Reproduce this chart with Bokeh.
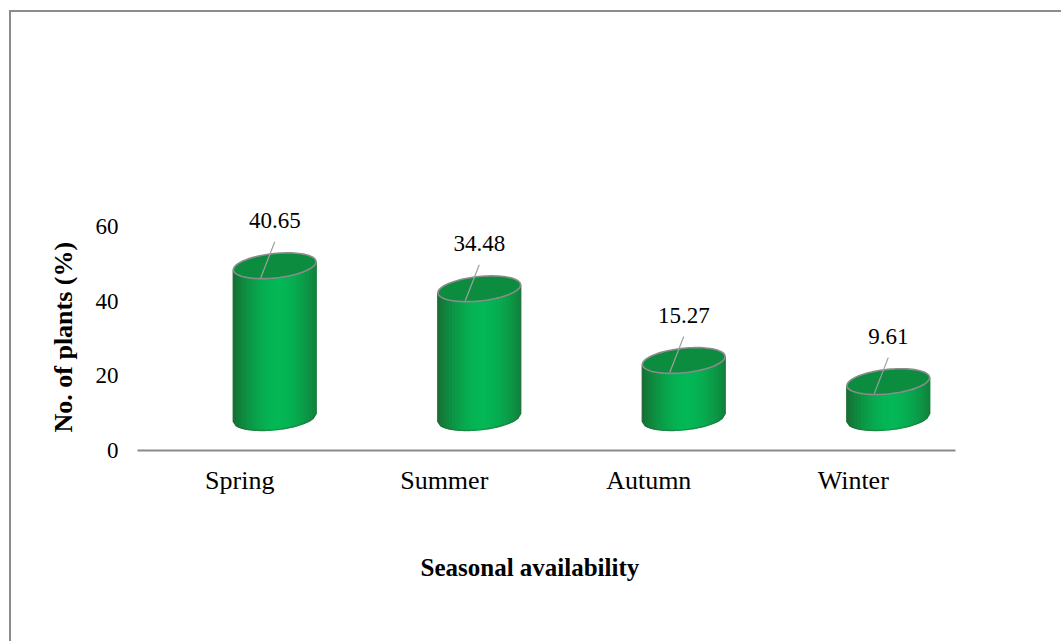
import numpy as np
from bokeh.plotting import figure
from bokeh.models import FixedTicker, Title, InlineStyleSheet
from bokeh.core.properties import value
from bokeh.embed import file_html
from bokeh.resources import INLINE

# ---------------- data ----------------
seasons = ["Spring", "Summer", "Autumn", "Winter"]
percent = [40.65, 34.48, 15.27, 9.61]
y_ticks = [0, 20, 40, 60]
x_title = "Seasonal availability"
y_title = "No. of plants (%)"

# ---------------- layout ----------------
W, H = 1061, 641
FL, FR, FT, FB = 137, 955, 114, 450       # plot frame in pixels
Y_MAX = 90
n = len(seasons)
px_x = (FR - FL) / n                      # pixels per x unit
px_y = (FB - FT) / Y_MAX                  # pixels per y unit

FONT = "Liberation Serif"

p = figure(width=W, height=H, x_range=(0, n), y_range=(0, Y_MAX),
           output_backend="svg", toolbar_location=None,
           min_border_left=FL, min_border_right=W - FR,
           min_border_top=FT, min_border_bottom=H - FB,
           background_fill_color="white", border_fill_color="white")
p.outline_line_color = None
p.grid.visible = False

# x axis
centers = [i + 0.5 for i in range(n)]
p.xaxis.ticker = FixedTicker(ticks=centers)
p.xaxis.major_label_overrides = {c: s for c, s in zip(centers, seasons)}
p.xaxis.axis_line_color = "#8a8a8a"
p.xaxis.axis_line_width = 2
p.xaxis.major_tick_line_color = None
p.xaxis.minor_tick_line_color = None
p.xaxis.major_tick_out = 0
p.xaxis.major_tick_in = 0
p.xaxis.major_label_standoff = 15
p.xaxis.major_label_text_font = FONT
p.xaxis.major_label_text_font_size = "26px"
p.xaxis.major_label_text_color = "black"

# y axis
p.yaxis.ticker = FixedTicker(ticks=y_ticks)
p.yaxis.axis_line_color = None
p.yaxis.major_tick_line_color = None
p.yaxis.minor_tick_line_color = None
p.yaxis.major_tick_out = 0
p.yaxis.major_tick_in = 0
p.yaxis.major_label_standoff = 19
p.yaxis.major_label_text_font = FONT
p.yaxis.major_label_text_font_size = "23px"
p.yaxis.major_label_text_color = "black"

# axis titles (side titles so they can be positioned like the original)
p.add_layout(Title(text=y_title, align="left", offset=18, standoff=30,
                   text_font=FONT, text_font_size="26px", text_font_style="bold",
                   text_color="black"), "left")
p.add_layout(Title(text=x_title, align="left", offset=283, standoff=108,
                   vertical_align="bottom",
                   text_font=FONT, text_font_size="25px", text_font_style="bold",
                   text_color="black"), "below")

# ---------------- cylinders ----------------
A_PX, B_PX, THETA = 41.5, 12.2, np.deg2rad(-6.0)   # ellipse half axes (px), tilt
SHIFT_PX, FLOOR_PX = 35, 33                         # 3-D perspective offsets
floor = FLOOR_PX / px_y
cs, sn = np.cos(THETA), np.sin(THETA)
umax = np.sqrt(A_PX**2 * cs**2 + B_PX**2 * sn**2)


def lower_env(u):
    """screen-y (down positive) of the lower edge of the tilted ellipse."""
    Aq = sn**2 / A_PX**2 + cs**2 / B_PX**2
    Bq = 2 * u * (cs * sn / A_PX**2 - sn * cs / B_PX**2)
    Cq = u**2 * (cs**2 / A_PX**2 + sn**2 / B_PX**2) - 1
    disc = np.clip(Bq**2 - 4 * Aq * Cq, 0, None)
    return (-Bq + np.sqrt(disc)) / (2 * Aq)


def shade(t):
    bright = np.array([4, 184, 86])
    dark = np.array([22, 110, 50])
    f = min(1.0, abs(t - 0.55) / 0.55) ** 1.7
    c = bright * (1 - f) + dark * f
    return "#%02x%02x%02x" % tuple(int(round(v)) for v in c)


NS = 28
strip_xs, strip_ys, strip_cols = [], [], []
top_xs, top_ys = [], []
edge_xs, edge_ys = [], []
cyl_x, top_y = [], []
for i, v in enumerate(percent):
    cx = centers[i] + SHIFT_PX / px_x
    ty = floor + v
    cyl_x.append(cx)
    top_y.append(ty)
    us = np.linspace(-umax, umax, NS + 1)
    env = lower_env(us)
    for j in range(NS):
        u0, u1 = us[j], us[j + 1]
        e0, e1 = env[j], env[j + 1]
        strip_xs.append([cx + u0 / px_x, cx + u1 / px_x, cx + u1 / px_x, cx + u0 / px_x])
        strip_ys.append([ty - e0 / px_y, ty - e1 / px_y, floor - e1 / px_y, floor - e0 / px_y])
        strip_cols.append(shade((j + 0.5) / NS))
    t = np.linspace(0, 2 * np.pi, 90)
    uu = A_PX * np.cos(t) * cs - B_PX * np.sin(t) * sn
    vv = A_PX * np.cos(t) * sn + B_PX * np.sin(t) * cs
    top_xs.append(list(cx + uu / px_x))
    top_ys.append(list(ty - vv / px_y))
    ex = [cx + us[0] / px_x] + list(cx + us / px_x) + [cx + us[-1] / px_x]
    ey = [ty - env[0] / px_y] + list(floor - env / px_y) + [ty - env[-1] / px_y]
    edge_xs.append(ex)
    edge_ys.append(ey)

p.patches(strip_xs, strip_ys, fill_color=strip_cols, line_color=strip_cols, line_width=1.6)
p.multi_line(edge_xs, edge_ys, line_color="#2f6a3c", line_alpha=0.55, line_width=1.2)
p.patches(top_xs, top_ys, fill_color="#0b8c3f", line_color="#8c8c8c", line_width=1.6)

# leader lines + value labels
LIFT_PX, LEAD_TOP_PX, LEAD_END_DX, LEAD_END_DY = 45, 24, -14, 12
p.segment(x0=cyl_x, y0=[t + LEAD_TOP_PX / px_y for t in top_y],
          x1=[c + LEAD_END_DX / px_x for c in cyl_x], y1=[t - LEAD_END_DY / px_y for t in top_y],
          line_color="#a0a0a0", line_width=1.2)
p.text(x=cyl_x, y=[t + LIFT_PX / px_y for t in top_y], text=["%.2f" % v for v in percent],
       text_font=value(FONT), text_font_size="23px", text_align="center",
       text_baseline="middle", text_color="black")

# outer chart border (top and left edges are visible in the original crop)
p.stylesheets = [InlineStyleSheet(css=""":host { position: relative; }
:host::after { content: ""; position: absolute; left: 9px; top: 10px;
  width: 1050px; height: 629px; border-top: 2px solid #8c8c8c;
  border-left: 2px solid #8c8c8c; pointer-events: none; }""")]

open("out.html", "w").write(file_html(p, INLINE))
